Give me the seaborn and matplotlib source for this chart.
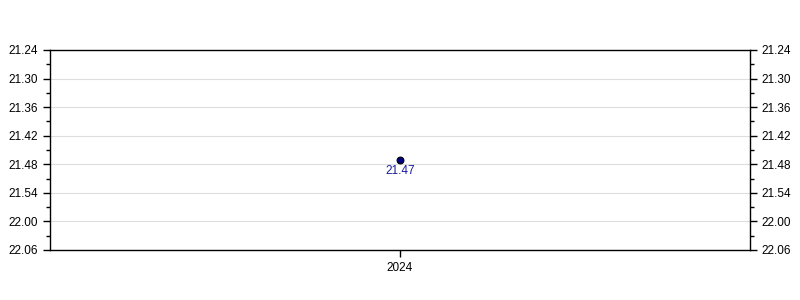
import matplotlib
matplotlib.use("Agg")
import matplotlib.pyplot as plt
import seaborn as sns
import pandas as pd
from matplotlib.ticker import FuncFormatter, MultipleLocator

years = ["2024"]
times_label = ["21.47"]          # minutes.seconds
times_sec = [21 * 60 + 47]       # same value in seconds

sns.set_style("white")
plt.rcParams['font.family'] = ['Liberation Sans', 'DejaVu Sans']

df = pd.DataFrame({"year": years, "sec": times_sec, "label": times_label})

fig = plt.figure(figsize=(8, 3), dpi=100)
ax = fig.add_axes([50/800, 50/300, 700/800, 200/300])

sns.scatterplot(data=df, x="year", y="sec", ax=ax, s=24, color="#000080",
                edgecolor="black", linewidth=0.8, zorder=3, legend=False)

for _, r in df.iterrows():
    ax.annotate(r["label"], (r["year"], r["sec"]), xytext=(0, -4),
                textcoords="offset points", ha="center", va="top",
                fontsize=8.5, color="#1a1aa0")

ax.set_xlim(-0.5, 0.5)
ax.set_ylim(22 * 60 + 6, 21 * 60 + 24)
ax.yaxis.set_major_locator(MultipleLocator(6))
ax.yaxis.set_minor_locator(MultipleLocator(3))
fmt = FuncFormatter(lambda v, p: f"{int(v)//60}.{int(v)%60:02d}")
ax.yaxis.set_major_formatter(fmt)
ax.grid(axis="y", which="major", color="#dddddd", linewidth=0.8)
ax.set_axisbelow(True)
ax.set_xlabel("")
ax.set_ylabel("")

ax.tick_params(axis="y", which="major", direction="out", length=5, width=1,
               left=True, right=True, labelleft=True, labelright=True,
               labelsize=8.5, colors="black")
ax.tick_params(axis="y", which="minor", direction="out", length=3, width=1,
               left=True, right=True, colors="black")
ax.tick_params(axis="x", which="major", direction="out", length=5, width=1,
               bottom=True, labelsize=8.5, colors="black")
for s in ax.spines.values():
    s.set_color("black")
    s.set_linewidth(1)

fig.savefig("out.png", dpi=100)
